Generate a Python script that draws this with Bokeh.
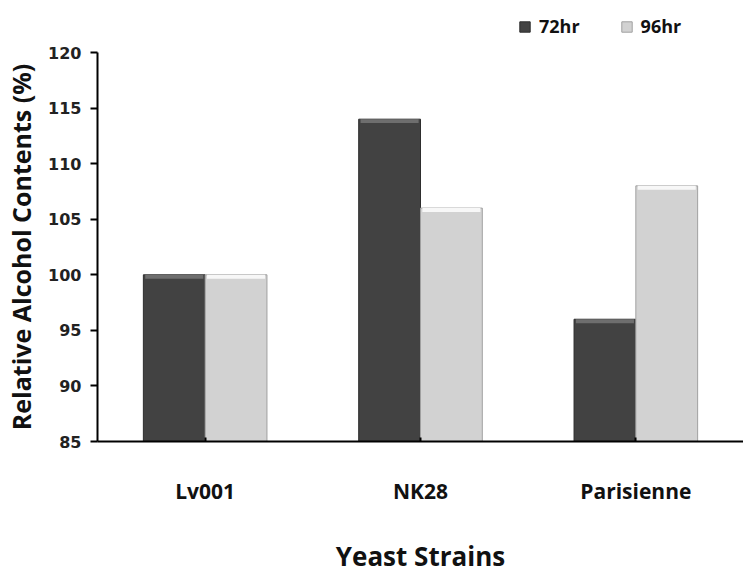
from bokeh.plotting import figure
from bokeh.layouts import column
from bokeh.models import FactorRange, Range1d, ColumnDataSource, Legend, LegendItem, FixedTicker
from bokeh.transform import dodge
from bokeh.embed import file_html
from bokeh.resources import INLINE

strains = ["Lv001", "NK28", "Parisienne"]
hr72 = [100, 114, 96]
hr96 = [100, 106, 108]
base = [85, 85, 85]
y_ticks = [85, 90, 95, 100, 105, 110, 115, 120]
series = ["72hr", "96hr"]
colors = ["#424242", "#d2d2d2"]
edges = ["#2e2e2e", "#a0a0a0"]

bevel = 0.35
src = ColumnDataSource(dict(strain=strains, hr72=hr72, hr96=hr96, base=base,
                            hr72_b=[v - bevel for v in hr72], hr96_b=[v - bevel for v in hr96]))

# --- legend strip (top) ---
lf = figure(width=743, height=42, output_backend="svg", toolbar_location=None,
            min_border=0, x_range=Range1d(0, 1), y_range=Range1d(0, 1),
            x_axis_location=None, y_axis_location=None)
lf.grid.visible = False
lf.outline_line_color = None
# hidden proxy renderers, used only to draw the legend swatches
d1 = lf.vbar(x=[0.5], top=[1], width=0.1, fill_color=colors[0], line_color=edges[0], visible=False)
d2 = lf.vbar(x=[0.5], top=[1], width=0.1, fill_color=colors[1], line_color=edges[1], visible=False)
legend = Legend(items=[LegendItem(label=series[0], renderers=[d1]),
                       LegendItem(label=series[1], renderers=[d2])],
                location=(421, 4), orientation="horizontal",
                border_line_color=None, background_fill_alpha=0,
                inactive_fill_alpha=0, click_policy="none",
                padding=0, margin=0, spacing=40, label_standoff=8,
                glyph_width=13, glyph_height=13,
                label_text_font="Open Sans", label_text_font_style="bold",
                label_text_font_size="18px", label_text_color="#111111")
lf.add_layout(legend, "center")

# --- main chart ---
p = figure(x_range=FactorRange(*strains), y_range=Range1d(85, 120),
           width=743, height=536, output_backend="svg", toolbar_location=None,
           min_border_left=97, min_border_right=0, min_border_top=10, min_border_bottom=137)
p.outline_line_color = None
p.xgrid.grid_line_color = None
p.ygrid.grid_line_color = None
p.x_range.range_padding = 0

w = 0.287
x1 = dodge("strain", -w / 2, range=p.x_range)
x2 = dodge("strain", w / 2, range=p.x_range)
p.vbar(x=x1, top="hr72", bottom="base", width=w,
       source=src, fill_color=colors[0], line_color=edges[0], line_width=1)
p.vbar(x=x2, top="hr96", bottom="base", width=w,
       source=src, fill_color=colors[1], line_color=edges[1], line_width=1)
# bevel highlights on top of the bars
p.vbar(x=x1, top="hr72", bottom="hr72_b", width=w * 0.94, source=src,
       fill_color="#6e6e6e", line_color=None)
p.vbar(x=x2, top="hr96", bottom="hr96_b", width=w * 0.94, source=src,
       fill_color="#f7f7f7", line_color=None)

# axes
p.yaxis.ticker = FixedTicker(ticks=y_ticks)
p.yaxis.axis_line_width = 2
p.yaxis.axis_line_color = "black"
p.yaxis.major_tick_line_width = 2
p.yaxis.major_tick_out = 7
p.yaxis.major_tick_in = 0
p.yaxis.minor_tick_line_color = None
p.yaxis.major_label_text_font = "DejaVu Sans"
p.yaxis.major_label_text_font_style = "bold"
p.yaxis.major_label_text_font_size = "16px"
p.yaxis.major_label_text_color = "#222222"
p.yaxis.major_label_standoff = 9
p.yaxis.axis_label = "Relative Alcohol Contents (%)"
p.yaxis.axis_label_text_font = "Open Sans"
p.yaxis.axis_label_text_font_style = "bold"
p.yaxis.axis_label_text_font_size = "25px"
p.yaxis.axis_label_text_color = "#111111"
p.yaxis.axis_label_standoff = 7

p.xaxis.axis_line_width = 2
p.xaxis.axis_line_color = "black"
p.xaxis.major_tick_in = 4
p.xaxis.major_tick_out = 0
p.xaxis.major_tick_line_width = 2
p.xaxis.major_label_text_font = "Open Sans"
p.xaxis.major_label_text_font_style = "bold"
p.xaxis.major_label_text_font_size = "21px"
p.xaxis.major_label_text_color = "#111111"
p.xaxis.major_label_standoff = 35
p.xaxis.axis_label = "Yeast Strains"
p.xaxis.axis_label_text_font = "Open Sans"
p.xaxis.axis_label_text_font_style = "bold"
p.xaxis.axis_label_text_font_size = "26px"
p.xaxis.axis_label_text_color = "#111111"
p.xaxis.axis_label_standoff = 30

layout = column(lf, p, spacing=0)
open("out.html", "w").write(file_html(layout, INLINE))
